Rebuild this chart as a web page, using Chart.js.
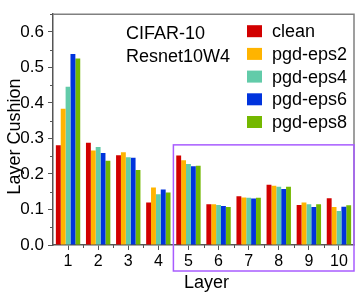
<!DOCTYPE html>
<html>
<head>
<meta charset="utf-8">
<script src="https://cdn.jsdelivr.net/npm/chart.js@4"></script>
<style>
  html, body { margin: 0; padding: 0; background: #fff; }
  #wrap { width: 357px; height: 292px; }
</style>
</head>
<body>
<div id="wrap"><canvas id="chart" width="357" height="292"></canvas></div>
<script>
// data
const layers = ['1', '2', '3', '4', '5', '6', '7', '8', '9', '10'];
const seriesNames = ['clean', 'pgd-eps2', 'pgd-eps4', 'pgd-eps6', 'pgd-eps8'];
const seriesColors = ['#d20000', '#ffb400', '#62cba9', '#0033dd', '#74b800'];
const clean    = [0.281, 0.288, 0.253, 0.120, 0.252, 0.115, 0.137, 0.170, 0.113, 0.132];
const pgdEps2  = [0.384, 0.266, 0.261, 0.162, 0.239, 0.115, 0.134, 0.167, 0.120, 0.107];
const pgdEps4  = [0.446, 0.276, 0.247, 0.143, 0.228, 0.113, 0.133, 0.164, 0.115, 0.096];
const pgdEps6  = [0.538, 0.259, 0.246, 0.156, 0.222, 0.110, 0.131, 0.158, 0.107, 0.108];
const pgdEps8  = [0.525, 0.237, 0.211, 0.148, 0.223, 0.107, 0.133, 0.164, 0.115, 0.112];
const yTicks = [0, 0.1, 0.2, 0.3, 0.4, 0.5, 0.6];
const yMinorTicks = [0.05, 0.15, 0.25, 0.35, 0.45, 0.55, 0.65];
const noteLines = ['CIFAR-10', 'Resnet10W4'];
// highlighted region: from layer 5 to the end, up to this value
const boxFromIndex = 4;
const boxTop = 0.282;

const allSeries = [clean, pgdEps2, pgdEps4, pgdEps6, pgdEps8];
const font = 'Arial, "Liberation Sans", sans-serif';

const decorPlugin = {
    id: 'decor',
    afterDraw(chart) {
        const ctx = chart.ctx;
        const area = chart.chartArea;
        const x = chart.scales.x;
        const y = chart.scales.y;

        ctx.save();
        // top and right frame
        ctx.strokeStyle = '#808080';
        ctx.lineWidth = 1.5;
        ctx.beginPath();
        ctx.moveTo(area.left, area.top);
        ctx.lineTo(area.right, area.top);
        ctx.lineTo(area.right, area.bottom);
        ctx.stroke();

        // minor ticks
        ctx.strokeStyle = '#555';
        ctx.lineWidth = 1;
        ctx.beginPath();
        for (let i = 0; i < layers.length - 1; i++) {
            const px = Math.round((x.getPixelForValue(i) + x.getPixelForValue(i + 1)) / 2) + 0.5;
            ctx.moveTo(px, area.bottom);
            ctx.lineTo(px, area.bottom + 3);
        }
        yMinorTicks.forEach(v => {
            const py = Math.round(y.getPixelForValue(v)) + 0.5;
            ctx.moveTo(area.left, py);
            ctx.lineTo(area.left - 3, py);
        });
        ctx.stroke();

        // note text
        ctx.fillStyle = '#000';
        ctx.font = '18px ' + font;
        ctx.textBaseline = 'alphabetic';
        ctx.textAlign = 'left';
        noteLines.forEach((line, i) => {
            ctx.fillText(line, area.left + 73, area.top + 25 + i * 23);
        });

        // legend
        chart.data.datasets.forEach((ds, i) => {
            const top = area.top + 11 + i * 22.7;
            ctx.fillStyle = ds.backgroundColor;
            ctx.fillRect(area.left + 194, top, 15, 12);
            ctx.fillStyle = '#000';
            ctx.fillText(ds.label, area.left + 219, top + 12);
        });

        // axis titles
        ctx.textAlign = 'center';
        ctx.font = '18px ' + font;
        ctx.fillText('Layer', (area.left + area.right) / 2 + 3, area.bottom + 43);
        ctx.save();
        ctx.translate(20, (area.top + area.bottom) / 2 + 7);
        ctx.rotate(-Math.PI / 2);
        ctx.fillText('Layer Cushion', 0, 0);
        ctx.restore();

        // purple highlight box
        const left = (x.getPixelForValue(boxFromIndex - 1) + x.getPixelForValue(boxFromIndex)) / 2;
        ctx.strokeStyle = '#a85cff';
        ctx.lineWidth = 1.5;
        ctx.strokeRect(left, y.getPixelForValue(boxTop), area.right - left, area.bottom + 26 - y.getPixelForValue(boxTop));
        ctx.restore();
    }
};

new Chart(document.getElementById('chart'), {
    type: 'bar',
    data: {
        labels: layers,
        datasets: allSeries.map((values, i) => ({
            label: seriesNames[i],
            data: values,
            backgroundColor: seriesColors[i],
            borderWidth: 0,
            barPercentage: 1,
            categoryPercentage: 0.81
        }))
    },
    options: {
        responsive: false,
        animation: false,
        layout: { padding: { top: 2, right: 3, left: 0, bottom: 0 } },
        plugins: {
            legend: { display: false },
            tooltip: { enabled: false }
        },
        scales: {
            x: {
                grid: { display: true, drawOnChartArea: false, offset: false, tickLength: 5, color: '#555' },
                border: { display: true, color: '#555', width: 1.5 },
                ticks: { color: '#000', font: { size: 16, family: font }, padding: 2, maxRotation: 0 },
                afterFit(scale) { scale.height = 47; }
            },
            y: {
                min: 0,
                max: 0.65,
                grid: { display: true, drawOnChartArea: false, tickLength: 5, color: '#555' },
                border: { display: true, color: '#555', width: 1.5 },
                ticks: {
                    color: '#000',
                    font: { size: 17, family: font },
                    padding: 4,
                    callback(value) { return value.toFixed(1); }
                },
                afterBuildTicks(scale) { scale.ticks = yTicks.map(v => ({ value: v })); },
                afterFit(scale) { scale.width = 53; }
            }
        }
    },
    plugins: [decorPlugin]
});
</script>
</body>
</html>
